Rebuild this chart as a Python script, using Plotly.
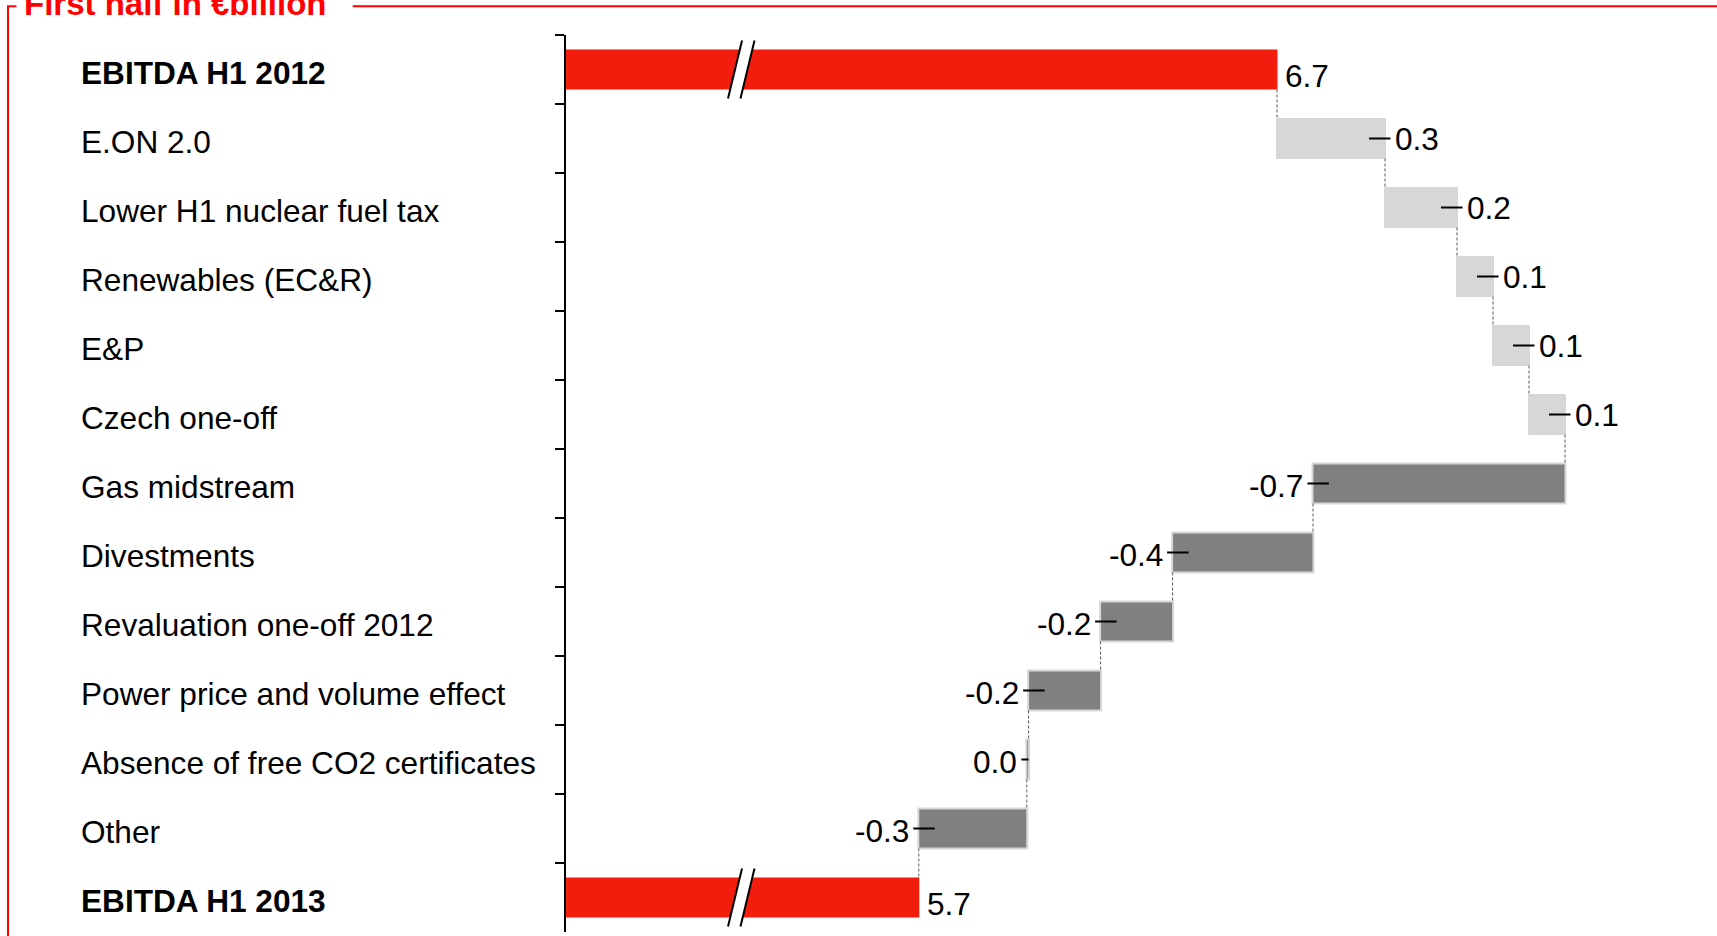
import plotly.graph_objects as go
import numpy as np

# ---------------- data ----------------
categories = [
    "EBITDA H1 2012",
    "E.ON 2.0",
    "Lower H1 nuclear fuel tax",
    "Renewables (EC&R)",
    "E&P",
    "Czech one-off",
    "Gas midstream",
    "Divestments",
    "Revaluation one-off 2012",
    "Power price and volume effect",
    "Absence of free CO2 certificates",
    "Other",
    "EBITDA H1 2013",
]
values = [6.7, 0.3, 0.2, 0.1, 0.1, 0.1, -0.7, -0.39, -0.2, -0.2, -0.005, -0.3, 5.7]
measures = ["absolute"] + ["relative"] * 11 + ["total"]
value_labels = ["6.7", "0.3", "0.2", "0.1", "0.1", "0.1", "-0.7", "-0.4",
                "-0.2", "-0.2", "0.0", "-0.3", "5.7"]
bold_rows = ["EBITDA H1 2012", "EBITDA H1 2013"]
title_text = "First half in €billion"

# ---------------- layout constants ----------------
W, H = 1717, 936
ML, MR, MT, MB = 566, 0, 35, 4
PW, PH = W - ML - MR, H - MT - MB
PX_PER_UNIT = 360.0
X_RANGE = [6.7 - (1277 - ML) / PX_PER_UNIT, 6.7 - (1277 - ML) / PX_PER_UNIT + PW / PX_PER_UNIT]
UPP = (X_RANGE[1] - X_RANGE[0]) / PW  # data units per pixel
FONT = "Liberation Sans, Arial, sans-serif"
FS = 31.6
RED = "#f21d0c"
LIGHT = "#d6d7d9"
DARK = "#808080"
FRAME = "#ff0000"
N = len(categories)


def px_x(p):
    return (p - ML) / PW


def px_y(p):
    return (H - MB - p) / PH


# cumulative ends from data
ends = []
running = 0.0
for v, m in zip(values, measures):
    if m == "absolute":
        running = v
        ends.append(v)
    elif m == "relative":
        running += v
        ends.append(running)
    else:
        ends.append(running)

fig = go.Figure()

fig.add_trace(go.Waterfall(
    orientation="h",
    y=categories,
    x=values,
    measure=measures,
    textinfo="none",
    increasing=dict(marker=dict(color=LIGHT, line=dict(color=LIGHT, width=1))),
    decreasing=dict(marker=dict(color=DARK, line=dict(color=LIGHT, width=2))),
    totals=dict(marker=dict(color=RED, line=dict(color=RED, width=0))),
    connector=dict(mode="between", line=dict(color="#5a5a5a", width=1, dash="3px,2px")),
    hoverinfo="skip",
    showlegend=False,
))

# small horizontal tick marks at bar ends of the changes
tx, ty = [], []
for c, v, m, e in zip(categories, values, measures, ends):
    if m != "relative":
        continue
    s = 1 if v > 0 else -1
    inside = min(16.0, abs(v) / UPP)
    tx += [e - s * inside * UPP, e + s * 5.5 * UPP, None]
    ty += [c, c, None]
fig.add_trace(go.Scatter(x=tx, y=ty, mode="lines",
                         line=dict(color="black", width=2),
                         hoverinfo="skip", showlegend=False, cliponaxis=False))

annotations = []
# category labels (left aligned)
for c in categories:
    txt = f"<b>{c}</b>" if c in bold_rows else c
    annotations.append(dict(
        x=px_x(78.5), xref="paper", y=c, yref="y", text=txt, showarrow=False,
        xanchor="left", yanchor="middle", yshift=-3.5,
        font=dict(family=FONT, size=FS, color="black")))

# value labels
for c, v, m, e, lab in zip(categories, values, measures, ends, value_labels):
    if m != "relative":
        annotations.append(dict(x=e, xref="x", y=c, yref="y", text=lab,
                                showarrow=False, xanchor="left", xshift=6, yshift=-6.5,
                                font=dict(family=FONT, size=FS, color="black")))
    elif v > 0:
        annotations.append(dict(x=e, xref="x", y=c, yref="y", text=lab,
                                showarrow=False, xanchor="left", xshift=8, yshift=0,
                                font=dict(family=FONT, size=FS, color="black")))
    else:
        annotations.append(dict(x=e, xref="x", y=c, yref="y", text=lab,
                                showarrow=False, xanchor="right", xshift=-8, yshift=-2,
                                font=dict(family=FONT, size=FS, color="black")))

# title
annotations.append(dict(
    x=px_x(22), xref="paper", y=px_y(3.6), yref="paper", text=f"<b>{title_text}</b>",
    showarrow=False, xanchor="left", yanchor="middle",
    font=dict(family=FONT, size=33, color=FRAME)))

shapes = []
# frame lines
shapes.append(dict(type="line", xref="paper", yref="paper",
                   x0=px_x(8), x1=px_x(8), y0=px_y(6.3), y1=px_y(H + 10),
                   line=dict(color=FRAME, width=2)))
shapes.append(dict(type="line", xref="paper", yref="paper",
                   x0=px_x(7), x1=px_x(16.5), y0=px_y(6.3), y1=px_y(6.3),
                   line=dict(color=FRAME, width=2)))
shapes.append(dict(type="line", xref="paper", yref="paper",
                   x0=px_x(352.7), x1=px_x(W + 10), y0=px_y(6.3), y1=px_y(6.3),
                   line=dict(color=FRAME, width=2)))

# axis-break marks on the total bars
x0, slant, gap, ext = 728.0, 14.0, 12.5, 29.0
for i, (c, m) in enumerate(zip(categories, measures)):
    if m == "relative":
        continue
    cy = MT + (i + 0.5) * PH / N
    yb, yt = px_y(cy + ext), px_y(cy - ext)
    xa, xb = px_x(x0), px_x(x0 + slant)
    xc, xd = px_x(x0 + gap), px_x(x0 + gap + slant)
    shapes.append(dict(type="path", xref="paper", yref="paper",
                       path=f"M {xa} {yb} L {xb} {yt} L {xd} {yt} L {xc} {yb} Z",
                       fillcolor="white", line=dict(width=0)))
    shapes.append(dict(type="line", xref="paper", yref="paper",
                       x0=xa, y0=yb, x1=xb, y1=yt, line=dict(color="black", width=2)))
    shapes.append(dict(type="line", xref="paper", yref="paper",
                       x0=xc, y0=yb, x1=xd, y1=yt, line=dict(color="black", width=2)))

fig.update_layout(
    width=W, height=H,
    margin=dict(l=ML, r=MR, t=MT, b=MB, pad=0),
    paper_bgcolor="white", plot_bgcolor="white",
    waterfallgap=0.42,
    showlegend=False,
    annotations=annotations,
    shapes=shapes,
    font=dict(family=FONT, size=FS, color="black"),
    xaxis=dict(range=X_RANGE, visible=False, showgrid=False, zeroline=False, fixedrange=True),
    yaxis=dict(
        type="category", categoryorder="array", categoryarray=categories,
        autorange="reversed", showgrid=False, zeroline=False,
        showline=True, linecolor="black", linewidth=2,
        ticks="outside", ticklen=9, tickwidth=2, tickcolor="black",
        tickson="boundaries", showticklabels=False, fixedrange=True,
    ),
)

fig.write_html("out.html")
